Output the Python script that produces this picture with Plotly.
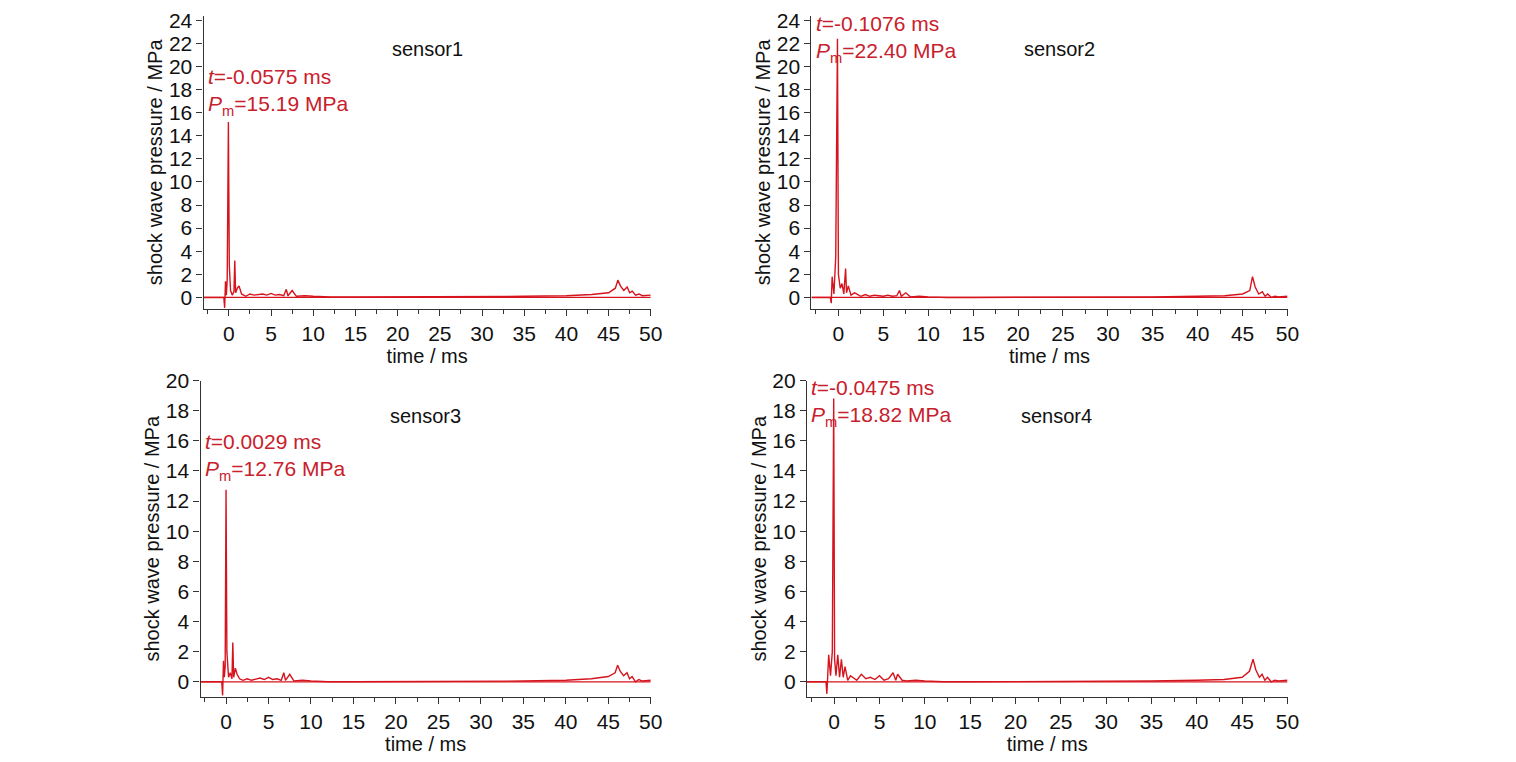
import plotly.graph_objects as go

t1 = [-3, -0.6, -0.5, -0.4, -0.3, -0.2, -0.0575, 0.05, 0.2, 0.4, 0.6, 0.7, 0.8, 1.0, 1.2, 1.5, 2, 2.5, 3, 3.5, 4, 4.5, 5, 5.5, 6, 6.5, 6.8, 7, 7.5, 8, 9, 10, 12, 15, 20, 25, 30, 35, 40, 43, 45, 45.8, 46.1, 46.4, 46.8, 47.2, 47.5, 47.8, 48.2, 48.6, 49, 49.5, 50]
p1 = [0, 0, -0.9, 1.4, 0.2, 1.5, 15.19, 2.8, 0.6, 0.2, 0.5, 3.2, 0.4, 0.8, 1.0, 0.3, 0.1, 0.3, 0.2, 0.25, 0.3, 0.2, 0.35, 0.2, 0.25, 0.15, 0.7, 0.15, 0.6, 0.1, 0.15, 0.1, 0.05, 0.05, 0.05, 0.05, 0.05, 0.1, 0.15, 0.25, 0.4, 0.8, 1.5, 1.0, 0.6, 0.9, 0.4, 0.55, 0.2, 0.3, 0.15, 0.2, 0.2]
t2 = [-3, -0.9, -0.8, -0.7, -0.5, -0.3, -0.1076, 0.0, 0.2, 0.4, 0.6, 0.8, 0.9, 1.1, 1.4, 1.8, 2.5, 3, 3.5, 4, 4.5, 5, 5.5, 6, 6.5, 6.8, 7, 7.5, 8, 9, 10, 12, 15, 20, 25, 30, 35, 40, 43, 45, 45.8, 46.1, 46.4, 46.8, 47.2, 47.5, 47.8, 48.2, 48.6, 49, 49.5, 50]
p2 = [0, 0, -0.5, 1.8, 0.3, 3.5, 22.40, 2.0, 0.8, 1.2, 0.3, 2.5, 0.4, 1.0, 0.2, 0.4, 0.1, 0.25, 0.1, 0.2, 0.15, 0.1, 0.2, 0.1, 0.15, 0.6, 0.1, 0.4, 0.05, 0.1, 0.05, 0.0, 0.0, 0.0, 0.0, 0.0, 0.05, 0.1, 0.15, 0.3, 0.6, 1.8, 0.9, 0.3, 0.5, 0.1, 0.3, 0.0, 0.1, 0.05, 0.1, 0.1]
t3 = [-3, -0.5, -0.4, -0.3, -0.2, -0.1, 0.0029, 0.1, 0.3, 0.5, 0.7, 0.8, 0.9, 1.1, 1.3, 1.6, 2, 2.5, 3, 3.5, 4, 4.5, 5, 5.5, 6, 6.5, 6.8, 7, 7.5, 8, 9, 10, 12, 15, 20, 25, 30, 35, 40, 43, 45, 45.8, 46.1, 46.4, 46.8, 47.2, 47.5, 47.8, 48.2, 48.6, 49, 49.5, 50]
p3 = [0, 0, -0.9, 1.4, 0.3, 1.0, 12.76, 2.0, 0.3, 0.6, 0.2, 2.6, 0.3, 0.9, 0.5, 0.2, 0.1, 0.2, 0.1, 0.2, 0.25, 0.15, 0.3, 0.15, 0.2, 0.1, 0.6, 0.1, 0.5, 0.05, 0.1, 0.05, 0.0, 0.0, 0.0, 0.0, 0.0, 0.05, 0.1, 0.2, 0.35, 0.6, 1.1, 0.7, 0.4, 0.6, 0.2, 0.35, 0.0, 0.15, 0.05, 0.1, 0.1]
t4 = [-3, -0.9, -0.8, -0.6, -0.4, -0.2, -0.0475, 0.05, 0.2, 0.4, 0.6, 0.8, 1.0, 1.2, 1.5, 1.8, 2.5, 3, 3.5, 4, 4.5, 5, 5.5, 6, 6.5, 6.8, 7, 7.5, 8, 9, 10, 12, 15, 20, 25, 30, 35, 40, 43, 45, 45.8, 46.2, 46.5, 46.9, 47.2, 47.5, 47.8, 48.2, 48.6, 49, 49.5, 50]
p4 = [0, 0, -0.8, 1.8, 0.4, 2.0, 18.82, 1.5, 0.4, 1.8, 0.3, 1.5, 0.3, 1.0, 0.1, 0.4, 0.1, 0.5, 0.2, 0.3, 0.15, 0.4, 0.1, 0.2, 0.6, 0.1, 0.5, 0.1, 0.05, 0.1, 0.05, 0.0, 0.0, 0.0, 0.0, 0.0, 0.05, 0.1, 0.15, 0.3, 0.7, 1.5, 0.8, 0.3, 0.5, 0.1, 0.3, 0.0, 0.1, 0.05, 0.1, 0.1]

series = [(t1, p1), (t2, p2), (t3, p3), (t4, p4)]
labels = ["sensor1", "sensor2", "sensor3", "sensor4"]
peak_t = ["-0.0575", "-0.1076", "0.0029", "-0.0475"]
peak_p = ["15.19", "22.40", "12.76", "18.82"]
ymax = [24, 24, 20, 20]
ytopval = [24.4, 24.4, 20.0, 20.0]

xdom = [[0.129, 0.424], [0.530, 0.844], [0.127, 0.424], [0.527, 0.844]]
ydom = [[0.605, 0.99], [0.605, 0.99], [0.096, 0.511], [0.096, 0.511]]

RED = "#d6141e"
TXT = "#c8202c"
FAM = "Liberation Sans, Arial"
fig = go.Figure()
font = dict(family=FAM, size=21, color="#111")
for i, (t, p) in enumerate(series):
    n = "" if i == 0 else str(i + 1)
    fig.add_trace(go.Scatter(x=[-3, 50], y=[0, 0], mode="lines", line=dict(color=RED, width=1.2),
                             xaxis="x" + n, yaxis="y" + n, showlegend=False, hoverinfo="skip"))
    fig.add_trace(go.Scatter(x=t, y=p, mode="lines", line=dict(color=RED, width=1.4),
                             xaxis="x" + n, yaxis="y" + n, showlegend=False))
    ax = dict(domain=xdom[i], range=[-3, 50], tickvals=list(range(0, 51, 5)), showline=True,
              linecolor="#333", linewidth=1.2, ticks="outside", ticklen=6, tickcolor="#333",
              minor=dict(dtick=2.5, ticks="outside", ticklen=4, tickcolor="#333", tick0=0),
              showgrid=False, zeroline=False, tickfont=font, anchor="y" + n, automargin=False,
              title=dict(text="time / ms", font=dict(family=FAM, size=20, color="#111"), standoff=0))
    ay = dict(domain=ydom[i], range=[-1, ytopval[i]], tickvals=list(range(0, ymax[i] + 1, 2)), showline=True,
              linecolor="#333", linewidth=1.2, ticks="outside", ticklen=6, tickcolor="#333",
              showgrid=False, zeroline=False, tickfont=font, anchor="x" + n, automargin=False,
              title=dict(text="shock wave pressure / MPa", font=dict(family=FAM, size=20, color="#111"), standoff=0))
    fig.update_layout(**{"xaxis" + n: ax, "yaxis" + n: ay})
    xr = "x" + n
    yr = "y" + n
    fig.add_annotation(x=0.5 if i in (0, 2) else 0.52, y=0.93, xref=xr + " domain", yref=yr + " domain",
                       text=labels[i], showarrow=False, font=dict(family=FAM, size=20, color="#111"))
    ytop = [0.84, 1.02, 0.85, 1.02][i]
    fig.add_annotation(x=0.005, y=ytop, xref=xr + " domain", yref=yr + " domain", xanchor="left", yanchor="top",
                       align="left", showarrow=False,
                       text=f"<i>t</i>={peak_t[i]} ms<br><i>P</i><sub>m</sub>={peak_p[i]} MPa",
                       font=dict(family=FAM, size=21, color=TXT))

fig.update_layout(width=1516, height=762, margin=dict(l=0, r=0, t=0, b=0),
                  plot_bgcolor="white", paper_bgcolor="white")
fig.write_html("out.html")
